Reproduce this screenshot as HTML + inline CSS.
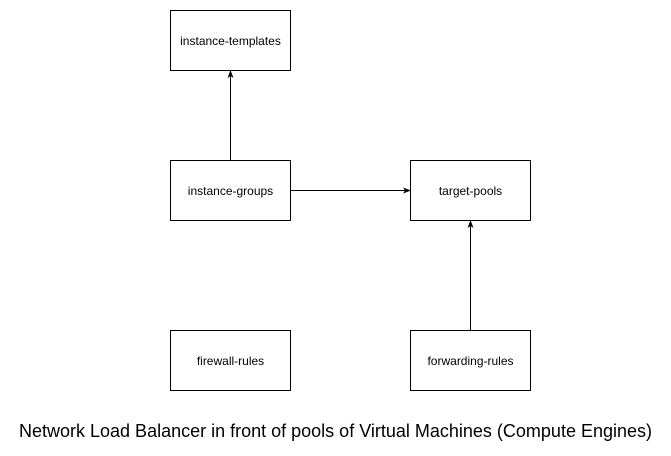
<!DOCTYPE html>
<html><head><style>
body{margin:0;background:#fff;width:671px;height:451px;overflow:hidden}
</style></head><body>
<svg width="671" height="451" xmlns="http://www.w3.org/2000/svg" font-family="Liberation Sans, sans-serif">
<defs><marker id="a" markerWidth="8" markerHeight="8" refX="7" refY="4" orient="auto" markerUnits="userSpaceOnUse"><path d="M0,1 L8,4 L0,7 L2,4 z" fill="#000"/></marker></defs>
<g fill="#fff" stroke="#000" stroke-width="1">
<rect x="170.5" y="10.5" width="120" height="60"/>
<rect x="170.5" y="160.5" width="120" height="60"/>
<rect x="410.5" y="160.5" width="120" height="60"/>
<rect x="170.5" y="330.5" width="120" height="60"/>
<rect x="410.5" y="330.5" width="120" height="60"/>
</g>
<g stroke="#000" fill="none">
<line x1="230.5" y1="160" x2="230.5" y2="71" marker-end="url(#a)"/>
<line x1="291" y1="190.5" x2="410" y2="190.5" marker-end="url(#a)"/>
<line x1="470.5" y1="330" x2="470.5" y2="221" marker-end="url(#a)"/>
</g>
<g font-size="12" text-anchor="middle">
<text x="230.5" y="45">instance-templates</text>
<text x="230.5" y="195">instance-groups</text>
<text x="470.5" y="195">target-pools</text>
<text x="230.5" y="365">firewall-rules</text>
<text x="470.5" y="365">forwarding-rules</text>
</g>
<text x="335.5" y="437" font-size="18" text-anchor="middle">Network Load Balancer in front of pools of Virtual Machines (Compute Engines)</text>
</svg>
</body></html>
